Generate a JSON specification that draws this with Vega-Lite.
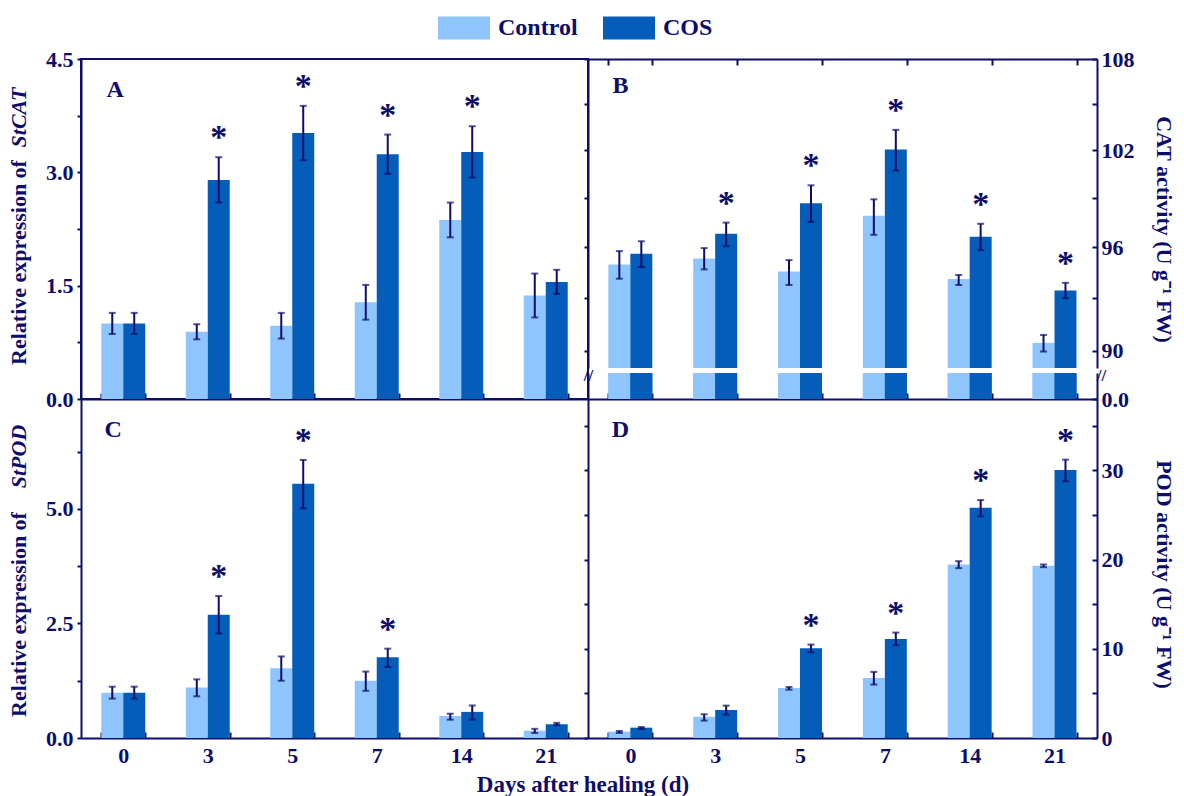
{
  "$schema": "https://vega.github.io/schema/vega-lite/v6.json",
  "padding": {"left": 6, "top": 2, "right": 0, "bottom": 0},
  "background": "white",
  "columns": 2,
  "spacing": 0,
  "bounds": "flush",
  "title": {"text": "Days after healing (d)", "orient": "bottom", "anchor": "middle", "frame": "bounds", "dx": -7, "fontSize": 23, "font": "Liberation Serif", "fontWeight": "bold", "color": "#0d0d6b", "offset": 8},
  "datasets": {
    "A": [
      {"day": "0", "treatment": "Control", "mean": 1.00, "lo": 0.86, "hi": 1.14, "sig": ""},
      {"day": "0", "treatment": "COS", "mean": 1.00, "lo": 0.86, "hi": 1.14, "sig": ""},
      {"day": "3", "treatment": "Control", "mean": 0.89, "lo": 0.79, "hi": 0.99, "sig": ""},
      {"day": "3", "treatment": "COS", "mean": 2.90, "lo": 2.60, "hi": 3.20, "sig": "*"},
      {"day": "5", "treatment": "Control", "mean": 0.97, "lo": 0.80, "hi": 1.14, "sig": ""},
      {"day": "5", "treatment": "COS", "mean": 3.52, "lo": 3.16, "hi": 3.88, "sig": "*"},
      {"day": "7", "treatment": "Control", "mean": 1.28, "lo": 1.05, "hi": 1.51, "sig": ""},
      {"day": "7", "treatment": "COS", "mean": 3.24, "lo": 2.98, "hi": 3.50, "sig": "*"},
      {"day": "14", "treatment": "Control", "mean": 2.37, "lo": 2.14, "hi": 2.60, "sig": ""},
      {"day": "14", "treatment": "COS", "mean": 3.27, "lo": 2.93, "hi": 3.61, "sig": "*"},
      {"day": "21", "treatment": "Control", "mean": 1.37, "lo": 1.08, "hi": 1.66, "sig": ""},
      {"day": "21", "treatment": "COS", "mean": 1.55, "lo": 1.39, "hi": 1.71, "sig": ""}
    ],
    "B": [
      {"day": "0", "treatment": "Control", "mean": 94.98, "lo": 94.14, "hi": 95.78, "sig": ""},
      {"day": "0", "treatment": "COS", "mean": 95.62, "lo": 94.83, "hi": 96.37, "sig": ""},
      {"day": "3", "treatment": "Control", "mean": 95.34, "lo": 94.69, "hi": 95.96, "sig": ""},
      {"day": "3", "treatment": "COS", "mean": 96.83, "lo": 96.07, "hi": 97.50, "sig": "*"},
      {"day": "5", "treatment": "Control", "mean": 94.57, "lo": 93.77, "hi": 95.24, "sig": ""},
      {"day": "5", "treatment": "COS", "mean": 98.68, "lo": 97.54, "hi": 99.80, "sig": "*"},
      {"day": "7", "treatment": "Control", "mean": 97.92, "lo": 96.76, "hi": 98.93, "sig": ""},
      {"day": "7", "treatment": "COS", "mean": 102.06, "lo": 100.72, "hi": 103.32, "sig": "*"},
      {"day": "14", "treatment": "Control", "mean": 94.13, "lo": 93.77, "hi": 94.36, "sig": ""},
      {"day": "14", "treatment": "COS", "mean": 96.64, "lo": 95.84, "hi": 97.43, "sig": "*"},
      {"day": "21", "treatment": "Control", "mean": 90.44, "lo": 89.95, "hi": 90.89, "sig": ""},
      {"day": "21", "treatment": "COS", "mean": 93.45, "lo": 93.00, "hi": 93.90, "sig": "*"}
    ],
    "C": [
      {"day": "0", "treatment": "Control", "mean": 0.99, "lo": 0.86, "hi": 1.12, "sig": ""},
      {"day": "0", "treatment": "COS", "mean": 0.99, "lo": 0.86, "hi": 1.12, "sig": ""},
      {"day": "3", "treatment": "Control", "mean": 1.10, "lo": 0.91, "hi": 1.28, "sig": ""},
      {"day": "3", "treatment": "COS", "mean": 2.69, "lo": 2.28, "hi": 3.10, "sig": "*"},
      {"day": "5", "treatment": "Control", "mean": 1.52, "lo": 1.25, "hi": 1.78, "sig": ""},
      {"day": "5", "treatment": "COS", "mean": 5.55, "lo": 5.01, "hi": 6.07, "sig": "*"},
      {"day": "7", "treatment": "Control", "mean": 1.25, "lo": 1.03, "hi": 1.45, "sig": ""},
      {"day": "7", "treatment": "COS", "mean": 1.76, "lo": 1.55, "hi": 1.95, "sig": "*"},
      {"day": "14", "treatment": "Control", "mean": 0.48, "lo": 0.40, "hi": 0.53, "sig": ""},
      {"day": "14", "treatment": "COS", "mean": 0.57, "lo": 0.40, "hi": 0.71, "sig": ""},
      {"day": "21", "treatment": "Control", "mean": 0.16, "lo": 0.11, "hi": 0.20, "sig": ""},
      {"day": "21", "treatment": "COS", "mean": 0.30, "lo": 0.28, "hi": 0.33, "sig": ""}
    ],
    "D": [
      {"day": "0", "treatment": "Control", "mean": 0.71, "lo": 0.56, "hi": 0.79, "sig": ""},
      {"day": "0", "treatment": "COS", "mean": 1.16, "lo": 1.01, "hi": 1.23, "sig": ""},
      {"day": "3", "treatment": "Control", "mean": 2.39, "lo": 1.95, "hi": 2.66, "sig": ""},
      {"day": "3", "treatment": "COS", "mean": 3.14, "lo": 2.62, "hi": 3.63, "sig": ""},
      {"day": "5", "treatment": "Control", "mean": 5.61, "lo": 5.42, "hi": 5.72, "sig": ""},
      {"day": "5", "treatment": "COS", "mean": 10.06, "lo": 9.61, "hi": 10.47, "sig": "*"},
      {"day": "7", "treatment": "Control", "mean": 6.73, "lo": 5.99, "hi": 7.41, "sig": ""},
      {"day": "7", "treatment": "COS", "mean": 11.11, "lo": 10.40, "hi": 11.82, "sig": "*"},
      {"day": "14", "treatment": "Control", "mean": 19.45, "lo": 19.04, "hi": 19.82, "sig": ""},
      {"day": "14", "treatment": "COS", "mean": 25.81, "lo": 24.84, "hi": 26.67, "sig": "*"},
      {"day": "21", "treatment": "Control", "mean": 19.30, "lo": 19.15, "hi": 19.45, "sig": ""},
      {"day": "21", "treatment": "COS", "mean": 30.04, "lo": 28.77, "hi": 31.20, "sig": "*"}
    ]
  },
  "concat": [
    {
      "width": 507, "height": 340,
      "data": {"name": "A"},
      "resolve": {"axis": {"y": "independent"}},
      "layer": [
        {"mark": {"type": "bar"},
         "encoding": {
           "x": {"field": "day", "type": "ordinal", "sort": ["0","3","5","7","14","21"], "scale": {"paddingInner": 0.48, "paddingOuter": 0.24}, "axis": {"labels": false, "title": null, "tickBand": "extent", "tickSize": -6}},
           "xOffset": {"field": "treatment", "type": "nominal", "sort": ["Control","COS"]},
           "y": {"field": "mean", "type": "quantitative", "scale": {"domain": [0, 4.5], "nice": false}, "axis": {"orient": "left", "values": [0,0.75,1.5,2.25,3,3.75,4.5], "labelExpr": "datum.value % 1.5 == 0 ? format(datum.value, '.1f') : ''", "title": "Relative expression of", "titleX": -51, "titleY": 203}},
           "color": {"field": "treatment", "type": "nominal", "title": null, "scale": {"domain": ["Control","COS"], "range": ["#8DC5FC","#045DB9"]}}
         }},
        {"mark": {"type": "rule", "color": "#0d0d6b", "strokeWidth": 2},
         "encoding": {
           "x": {"field": "day", "type": "ordinal", "sort": ["0","3","5","7","14","21"]},
           "xOffset": {"field": "treatment", "type": "nominal", "sort": ["Control","COS"]},
           "y": {"field": "lo", "type": "quantitative", "axis": {"orient": "left", "labels": false, "ticks": false, "domain": false, "title": "StCAT", "titleFontStyle": "italic", "titleX": -51, "titleY": 58}}, "y2": {"field": "hi"}}},
        {"mark": {"type": "tick", "color": "#0d0d6b", "thickness": 2, "size": 7},
         "encoding": {
           "x": {"field": "day", "type": "ordinal", "sort": ["0","3","5","7","14","21"]},
           "xOffset": {"field": "treatment", "type": "nominal", "sort": ["Control","COS"]},
           "y": {"field": "lo", "type": "quantitative", "axis": null}}},
        {"mark": {"type": "tick", "color": "#0d0d6b", "thickness": 2, "size": 7},
         "encoding": {
           "x": {"field": "day", "type": "ordinal", "sort": ["0","3","5","7","14","21"]},
           "xOffset": {"field": "treatment", "type": "nominal", "sort": ["Control","COS"]},
           "y": {"field": "hi", "type": "quantitative", "axis": null}}},
        {"mark": {"type": "text", "fontSize": 34, "baseline": "alphabetic", "dy": -9},
         "encoding": {
           "x": {"field": "day", "type": "ordinal", "sort": ["0","3","5","7","14","21"]},
           "xOffset": {"field": "treatment", "type": "nominal", "sort": ["Control","COS"]},
           "y": {"field": "hi", "type": "quantitative", "axis": null}, "text": {"field": "sig"}}},
        {"data": {"values": [{}]},
         "mark": {"type": "text", "fontSize": 24, "dx": -8, "baseline": "middle"},
         "encoding": {"x": {"datum": "0", "type": "ordinal"}, "y": {"datum": 4.09, "type": "quantitative", "axis": null}, "text": {"value": "A"}}}
      ]
    },
    {
      "width": 509, "height": 340,
      "data": {"name": "B"},
      "view": {"stroke": null},
      "resolve": {"scale": {"y": "independent"}, "axis": {"x": "independent"}},
      "layer": [
        {
          "resolve": {"axis": {"y": "independent"}},
          "layer": [
            {"mark": {"type": "bar"},
             "encoding": {
               "x": {"field": "day", "type": "ordinal", "sort": ["0","3","5","7","14","21"], "scale": {"paddingInner": 0.48, "paddingOuter": 0.24}, "axis": {"orient": "top", "labels": false, "title": null, "tickBand": "extent", "tickSize": -6}},
               "xOffset": {"field": "treatment", "type": "nominal", "sort": ["Control","COS"]},
               "y": {"field": "mean", "type": "quantitative", "scale": {"type": "log", "domain": [89.03, 108], "range": [309, 0], "clamp": true, "nice": false, "zero": false},
                     "axis": {"orient": "right", "values": [89.05,90,93,96,99,102,105,108], "labelOverlap": false,
                              "labelExpr": "datum.value < 90 ? '//' : (datum.value - 90) % 6 == 0 ? format(datum.value, 'd') : ''",
                              "labelAlign": {"condition": {"test": "datum.value < 90", "value": "center"}, "value": "left"},
                              "labelBaseline": {"condition": {"test": "datum.value < 90", "value": "top"}, "value": "middle"},
                              "labelFontSize": {"condition": {"test": "datum.value < 90", "value": 17}, "value": 22},
                              "tickOpacity": {"condition": {"test": "datum.value < 90", "value": 0}, "value": 1},
                              "title": "CAT activity (U g⁻¹ FW)", "tickSize": -5, "labelPadding": 9, "titlePadding": 17, "titleY": 170}},
               "y2": {"datum": 80},
               "color": {"field": "treatment", "type": "nominal", "title": null, "scale": {"domain": ["Control","COS"], "range": ["#8DC5FC","#045DB9"]}}
             }},
            {"mark": {"type": "rule", "color": "#0d0d6b", "strokeWidth": 2},
             "encoding": {
               "x": {"field": "day", "type": "ordinal", "sort": ["0","3","5","7","14","21"]},
               "xOffset": {"field": "treatment", "type": "nominal", "sort": ["Control","COS"]},
               "y": {"field": "lo", "type": "quantitative",
                     "axis": {"orient": "left", "values": [89.05,90,93,96,99,102,105,108], "labelOverlap": false, "title": null, "tickSize": 4, "labelPadding": -4,
                              "labelExpr": "datum.value < 90 ? '//' : ''", "labelAlign": "center", "labelBaseline": "top", "labelFontSize": 17,
                              "tickOpacity": {"condition": {"test": "datum.value < 90", "value": 0}, "value": 1}}}, "y2": {"field": "hi"}}},
            {"mark": {"type": "tick", "color": "#0d0d6b", "thickness": 2, "size": 7},
             "encoding": {
               "x": {"field": "day", "type": "ordinal", "sort": ["0","3","5","7","14","21"]},
               "xOffset": {"field": "treatment", "type": "nominal", "sort": ["Control","COS"]},
               "y": {"field": "lo", "type": "quantitative", "axis": null}}},
            {"mark": {"type": "tick", "color": "#0d0d6b", "thickness": 2, "size": 7},
             "encoding": {
               "x": {"field": "day", "type": "ordinal", "sort": ["0","3","5","7","14","21"]},
               "xOffset": {"field": "treatment", "type": "nominal", "sort": ["Control","COS"]},
               "y": {"field": "hi", "type": "quantitative", "axis": null}}},
            {"mark": {"type": "text", "fontSize": 34, "baseline": "alphabetic", "dy": -9},
             "encoding": {
               "x": {"field": "day", "type": "ordinal", "sort": ["0","3","5","7","14","21"]},
               "xOffset": {"field": "treatment", "type": "nominal", "sort": ["Control","COS"]},
               "y": {"field": "hi", "type": "quantitative", "axis": null}, "text": {"field": "sig"}}},
            {"data": {"values": [{}]},
             "mark": {"type": "text", "fontSize": 24, "dx": -10, "baseline": "middle"},
             "encoding": {"x": {"datum": "0", "type": "ordinal"}, "y": {"datum": 106.19, "type": "quantitative", "axis": null}, "text": {"value": "B"}}}
          ]
        },
        {
          "resolve": {"axis": {"y": "independent"}},
          "layer": [
            {"mark": {"type": "bar"},
             "encoding": {
               "x": {"field": "day", "type": "ordinal", "sort": ["0","3","5","7","14","21"], "axis": {"orient": "bottom", "labels": false, "title": null, "tickBand": "extent", "tickSize": -6}},
               "xOffset": {"field": "treatment", "type": "nominal", "sort": ["Control","COS"]},
               "y": {"field": "mean", "type": "quantitative", "scale": {"domain": [0, 1], "range": [340, 314], "clamp": true, "nice": false},
                     "axis": {"orient": "right", "values": [0], "format": ".1f", "title": null, "tickSize": -5, "labelPadding": 9}},
               "color": {"field": "treatment", "type": "nominal", "title": null, "scale": {"domain": ["Control","COS"], "range": ["#8DC5FC","#045DB9"]}}
             }},
            {"mark": {"type": "bar"},
             "encoding": {
               "x": {"field": "day", "type": "ordinal", "sort": ["0","3","5","7","14","21"]},
               "xOffset": {"field": "treatment", "type": "nominal", "sort": ["Control","COS"]},
               "y": {"field": "mean", "type": "quantitative", "axis": {"orient": "left", "labels": false, "ticks": false, "title": null}},
               "color": {"field": "treatment", "type": "nominal", "title": null, "scale": {"domain": ["Control","COS"], "range": ["#8DC5FC","#045DB9"]}}
             }}
          ]
        }
      ]
    },
    {
      "width": 507, "height": 339,
      "data": {"name": "C"},
      "view": {"stroke": null},
      "resolve": {"axis": {"y": "independent"}},
      "layer": [
        {"mark": {"type": "bar"},
         "encoding": {
           "x": {"field": "day", "type": "ordinal", "sort": ["0","3","5","7","14","21"], "scale": {"paddingInner": 0.48, "paddingOuter": 0.24}, "axis": {"labelAngle": 0, "title": null, "tickBand": "extent", "tickSize": -6, "labelPadding": 13}},
           "xOffset": {"field": "treatment", "type": "nominal", "sort": ["Control","COS"]},
           "y": {"field": "mean", "type": "quantitative", "scale": {"domain": [0, 7.4], "nice": false}, "axis": {"orient": "left", "values": [0,1.25,2.5,3.75,5,6.25], "labelExpr": "datum.value % 2.5 == 0 ? format(datum.value, '.1f') : ''", "title": "Relative expression of", "titleX": -51, "titleY": 215}},
           "color": {"field": "treatment", "type": "nominal", "title": null, "scale": {"domain": ["Control","COS"], "range": ["#8DC5FC","#045DB9"]}}
         }},
        {"mark": {"type": "rule", "color": "#0d0d6b", "strokeWidth": 2},
         "encoding": {
           "x": {"field": "day", "type": "ordinal", "sort": ["0","3","5","7","14","21"]},
           "xOffset": {"field": "treatment", "type": "nominal", "sort": ["Control","COS"]},
           "y": {"field": "lo", "type": "quantitative", "axis": {"orient": "left", "labels": false, "ticks": false, "domain": false, "title": "StPOD", "titleFontStyle": "italic", "titleX": -51, "titleY": 57}}, "y2": {"field": "hi"}}},
        {"mark": {"type": "tick", "color": "#0d0d6b", "thickness": 2, "size": 7},
         "encoding": {
           "x": {"field": "day", "type": "ordinal", "sort": ["0","3","5","7","14","21"]},
           "xOffset": {"field": "treatment", "type": "nominal", "sort": ["Control","COS"]},
           "y": {"field": "lo", "type": "quantitative", "axis": null}}},
        {"mark": {"type": "tick", "color": "#0d0d6b", "thickness": 2, "size": 7},
         "encoding": {
           "x": {"field": "day", "type": "ordinal", "sort": ["0","3","5","7","14","21"]},
           "xOffset": {"field": "treatment", "type": "nominal", "sort": ["Control","COS"]},
           "y": {"field": "hi", "type": "quantitative", "axis": null}}},
        {"mark": {"type": "text", "fontSize": 34, "baseline": "alphabetic", "dy": -9},
         "encoding": {
           "x": {"field": "day", "type": "ordinal", "sort": ["0","3","5","7","14","21"]},
           "xOffset": {"field": "treatment", "type": "nominal", "sort": ["Control","COS"]},
           "y": {"field": "hi", "type": "quantitative", "axis": null}, "text": {"field": "sig"}}},
        {"data": {"values": [{}]},
         "mark": {"type": "text", "fontSize": 24, "dx": -10, "baseline": "middle"},
         "encoding": {"x": {"datum": "0", "type": "ordinal"}, "y": {"datum": 6.72, "type": "quantitative", "axis": null}, "text": {"value": "C"}}}
      ]
    },
    {
      "width": 509, "height": 339,
      "data": {"name": "D"},
      "view": {"stroke": null},
      "resolve": {"axis": {"y": "independent"}},
      "layer": [
        {"mark": {"type": "bar"},
         "encoding": {
           "x": {"field": "day", "type": "ordinal", "sort": ["0","3","5","7","14","21"], "scale": {"paddingInner": 0.48, "paddingOuter": 0.24}, "axis": {"labelAngle": 0, "title": null, "tickBand": "extent", "tickSize": -6, "labelPadding": 13}},
           "xOffset": {"field": "treatment", "type": "nominal", "sort": ["Control","COS"]},
           "y": {"field": "mean", "type": "quantitative", "scale": {"domain": [0, 38], "nice": false}, "axis": {"orient": "right", "values": [0,5,10,15,20,25,30,35], "labelExpr": "datum.value % 10 == 0 ? format(datum.value, 'd') : ''", "title": "POD activity (U g⁻¹ FW)", "tickSize": -5, "labelPadding": 9, "titlePadding": 28, "titleY": 175}},
           "color": {"field": "treatment", "type": "nominal", "title": null, "scale": {"domain": ["Control","COS"], "range": ["#8DC5FC","#045DB9"]}}
         }},
        {"mark": {"type": "rule", "color": "#0d0d6b", "strokeWidth": 2},
         "encoding": {
           "x": {"field": "day", "type": "ordinal", "sort": ["0","3","5","7","14","21"]},
           "xOffset": {"field": "treatment", "type": "nominal", "sort": ["Control","COS"]},
           "y": {"field": "lo", "type": "quantitative", "axis": {"orient": "left", "values": [0,5,10,15,20,25,30,35], "labels": false, "title": null, "tickSize": 4}}, "y2": {"field": "hi"}}},
        {"mark": {"type": "tick", "color": "#0d0d6b", "thickness": 2, "size": 7},
         "encoding": {
           "x": {"field": "day", "type": "ordinal", "sort": ["0","3","5","7","14","21"]},
           "xOffset": {"field": "treatment", "type": "nominal", "sort": ["Control","COS"]},
           "y": {"field": "lo", "type": "quantitative", "axis": null}}},
        {"mark": {"type": "tick", "color": "#0d0d6b", "thickness": 2, "size": 7},
         "encoding": {
           "x": {"field": "day", "type": "ordinal", "sort": ["0","3","5","7","14","21"]},
           "xOffset": {"field": "treatment", "type": "nominal", "sort": ["Control","COS"]},
           "y": {"field": "hi", "type": "quantitative", "axis": null}}},
        {"mark": {"type": "text", "fontSize": 34, "baseline": "alphabetic", "dy": -9},
         "encoding": {
           "x": {"field": "day", "type": "ordinal", "sort": ["0","3","5","7","14","21"]},
           "xOffset": {"field": "treatment", "type": "nominal", "sort": ["Control","COS"]},
           "y": {"field": "hi", "type": "quantitative", "axis": null}, "text": {"field": "sig"}}},
        {"data": {"values": [{}]},
         "mark": {"type": "text", "fontSize": 24, "dx": -10, "baseline": "middle"},
         "encoding": {"x": {"datum": "0", "type": "ordinal"}, "y": {"datum": 34.5, "type": "quantitative", "axis": null}, "text": {"value": "D"}}}
      ]
    }
  ],
  "config": {
    "font": "Liberation Serif",
    "view": {"stroke": "#0d0d6b", "strokeWidth": 2},
    "axis": {
      "domainColor": "#0d0d6b", "domainWidth": 2,
      "tickColor": "#0d0d6b", "tickWidth": 2, "tickSize": 4,
      "labelFont": "Liberation Serif", "labelFontWeight": "bold", "labelFontSize": 22, "labelColor": "#0d0d6b", "labelPadding": 4,
      "titleFont": "Liberation Serif", "titleFontWeight": "bold", "titleFontSize": 22, "titleColor": "#0d0d6b", "titlePadding": 16,
      "grid": false
    },
    "text": {"font": "Liberation Serif", "fontWeight": "bold", "color": "#0d0d6b"},
    "legend": {
      "orient": "none", "legendX": 357, "legendY": -57, "direction": "horizontal",
      "symbolType": "M-1,-0.44H1V0.44H-1Z", "symbolSize": 2704, "symbolStrokeWidth": 0, "symbolOpacity": 1,
      "labelFont": "Liberation Serif", "labelFontWeight": "bold", "labelFontSize": 24, "labelColor": "#0d0d6b",
      "labelOffset": 8, "columnPadding": 25
    }
  }
}
